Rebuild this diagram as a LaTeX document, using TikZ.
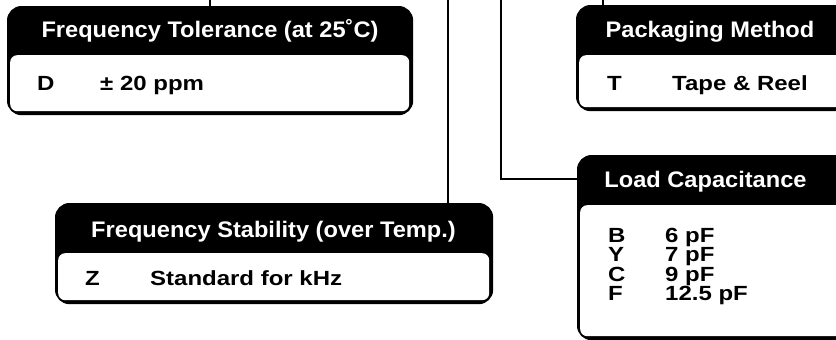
\documentclass[tikz,border=0pt]{standalone}
\usepackage{fontspec}
\setmainfont{Liberation Sans}
\newfontfamily\hdfont{Liberation Sans}[FakeStretch=1.05]
\newfontfamily\bdfont{Liberation Sans}[FakeStretch=1.17]
\begin{document}
\begin{tikzpicture}[x=1pt,y=-1pt,
  outerbox/.style={draw=black, line width=1.2pt, fill=black, rounded corners=14pt, inner sep=0pt, anchor=north west},
  innerbox/.style={fill=white, rounded corners=7pt, inner sep=0pt, anchor=north west},
  hd/.style={text=white, font=\hdfont\bfseries\fontsize{22.5}{24}\selectfont, anchor=base, inner sep=0pt},
  bd/.style={text=black, font=\bdfont\bfseries\fontsize{20.5}{21}\selectfont, anchor=base west, inner sep=0pt},
  conn/.style={draw=black, line width=1.3pt}]
\useasboundingbox (0,0) rectangle (836,340);
\clip (0,0) rectangle (836,340);
% boxes
\node[outerbox, minimum width=405pt, minimum height=108pt] (tolbox) at (7,6) {};
\node[innerbox, minimum width=399pt, minimum height=56pt] (tolbody) at (10,55) {};
\node[outerbox, minimum width=290pt, minimum height=105pt] (packbox) at (576,5) {};
\node[innerbox, minimum width=284pt, minimum height=52pt] (packbody) at (579,55) {};
\node[outerbox, minimum width=437pt, minimum height=100pt] (stabbox) at (55,203) {};
\node[innerbox, minimum width=431pt, minimum height=47pt] (stabbody) at (58,253) {};
\node[outerbox, minimum width=290pt, minimum height=184pt] (loadbox) at (577,155) {};
\node[innerbox, minimum width=284pt, minimum height=131pt] (loadbody) at (580,205) {};
% connectors
\coordinate (c1) at (210,0);
\coordinate (c2) at (448,0);
\coordinate (c3) at (501,0);
\coordinate (c3b) at (501,179);
\coordinate (c4) at (603,0);
\draw[conn] (c1) -- (c1 |- tolbox.north);
\draw[conn] (c2) -- (c2 |- stabbox.north);
\draw[conn] (c3) -- (c3b) -- (c3b -| loadbox.west);
\draw[conn] (c4) -- (c4 |- packbox.north);
% headers
\node[hd] (tolhd) at (210,37) {Frequency Tolerance (at 25˚C)};
\node[hd] (packhd) at (710,37) {Packaging Method};
\node[hd] (stabhd) at (273.5,237) {Frequency Stability (over Temp.)};
\node[hd] (loadhd) at (705.5,187) {Load Capacitance};
% bodies
\node[bd] (tolk) at (37,90) {D};
\node[bd] (tolv) at (100,90) {± 20 ppm};
\node[bd] (packk) at (607,90) {T};
\node[bd] (packv) at (672,90) {Tape \& Reel};
\node[bd] (stabk) at (85,285) {Z};
\node[bd] (stabv) at (150,285) {Standard for kHz};
\node[bd] (lk1) at (608,242) {B};
\node[bd] (lv1) at (665,242) {6 pF};
\node[bd] (lk2) at (608,261.5) {Y};
\node[bd] (lv2) at (665,261.5) {7 pF};
\node[bd] (lk3) at (608,281) {C};
\node[bd] (lv3) at (665,281) {9 pF};
\node[bd] (lk4) at (608,300.5) {F};
\node[bd] (lv4) at (665,300.5) {12.5 pF};
\end{tikzpicture}
\end{document}
